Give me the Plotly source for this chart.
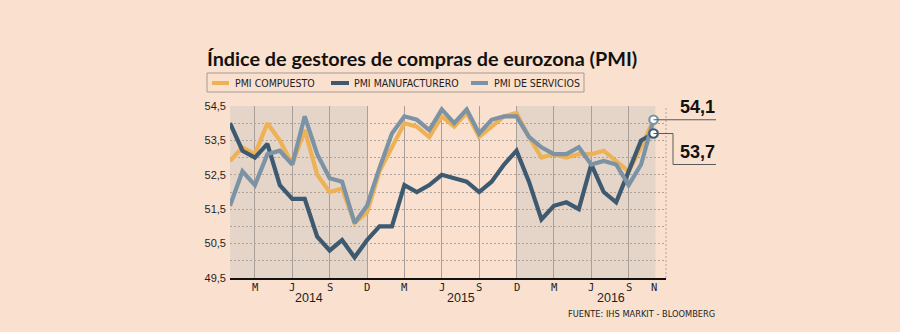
import plotly.graph_objects as go

# ---------------- data ----------------
month_idx = list(range(35))  # Jan 2014 .. Nov 2016
composite = [52.9, 53.3, 53.1, 54.0, 53.5, 52.8, 53.8, 52.5, 52.0, 52.1, 51.1, 51.4,
             52.6, 53.3, 54.0, 53.9, 53.6, 54.2, 53.9, 54.3, 53.6, 53.9, 54.2, 54.3,
             53.6, 53.0, 53.1, 53.0, 53.1, 53.1, 53.2, 52.9, 52.6, 53.3, 54.1]
manufacturing = [54.0, 53.2, 53.0, 53.4, 52.2, 51.8, 51.8, 50.7, 50.3, 50.6, 50.1, 50.6,
                 51.0, 51.0, 52.2, 52.0, 52.2, 52.5, 52.4, 52.3, 52.0, 52.3, 52.8, 53.2,
                 52.3, 51.2, 51.6, 51.7, 51.5, 52.8, 52.0, 51.7, 52.6, 53.5, 53.7]
services = [51.6, 52.6, 52.2, 53.1, 53.2, 52.8, 54.2, 53.1, 52.4, 52.3, 51.1, 51.6,
            52.7, 53.7, 54.2, 54.1, 53.8, 54.4, 54.0, 54.4, 53.7, 54.1, 54.2, 54.2,
            53.6, 53.3, 53.1, 53.1, 53.3, 52.8, 52.9, 52.8, 52.2, 52.8, 54.1]

x_tickvals = [2, 5, 8, 11, 14, 17, 20, 23, 26, 29, 32, 34]
x_ticktext = ["M", "J", "S", "D", "M", "J", "S", "D", "M", "J", "S", "N"]
x_gridvals = [2, 5, 8, 11, 14, 17, 20, 23, 26, 29, 32]
years = ["2014", "2015", "2016"]
year_pos = [6.35, 18.55, 30.6]
y_tickvals = [49.5, 50.5, 51.5, 52.5, 53.5, 54.5]
y_ticktext = ["49,5", "50,5", "51,5", "52,5", "53,5", "54,5"]
shade_ranges = [(0, 11), (23, 34.15)]
series_names = ["PMI COMPUESTO", "PMI MANUFACTURERO", "PMI DE SERVICIOS"]
callout_manuf = "53,7"
callout_top = "54,1"

# ---------------- style ----------------
BG = "#FAE1CF"
SHADE = "#E5D4C8"
C_COMP = "#EDB256"
C_MAN = "#3E5A71"
C_SER = "#7C93A5"
GRID = "#ADA39B"
VGRID = "#A99F98"
TXT = "#1E1E1E"
SANS_N = "DejaVu Sans Condensed, Lato, sans-serif"

W, H = 900, 332
L, R, T, B = 230, 234, 106, 54
XMIN, XMAX = 0, 35
YMIN, YMAX = 49.5, 54.5
PW = W - L - R
PH = H - T - B


def pxx(px):
    return (px - L) / PW


def pxy(py):
    return (H - B - py) / PH


def dy(v):
    return (v - YMIN) / (YMAX - YMIN)


def dx(v):
    return (v - XMIN) / (XMAX - XMIN)


fig = go.Figure()

for vals, col, name in [(composite, C_COMP, series_names[0]),
                        (manufacturing, C_MAN, series_names[1]),
                        (services, C_SER, series_names[2])]:
    fig.add_trace(go.Scatter(x=month_idx, y=vals, mode="lines", name=name,
                             line=dict(color=col, width=4.2),
                             showlegend=False, hoverinfo="skip"))

# end markers
fig.add_trace(go.Scatter(x=[month_idx[-1]], y=[services[-1]], mode="markers",
                         marker=dict(size=8.5, color="white", line=dict(color=C_SER, width=2.2)),
                         showlegend=False, hoverinfo="skip"))
fig.add_trace(go.Scatter(x=[month_idx[-1]], y=[manufacturing[-1]], mode="markers",
                         marker=dict(size=8.5, color="white", line=dict(color=C_MAN, width=2.2)),
                         showlegend=False, hoverinfo="skip"))

shapes = []
for a, b in shade_ranges:
    shapes.append(dict(type="rect", xref="x", yref="y", x0=a, x1=b, y0=YMIN, y1=YMAX,
                       fillcolor=SHADE, line=dict(width=0), layer="below"))
# right dashed border
shapes.append(dict(type="line", xref="paper", yref="paper", x0=1, x1=1, y0=0, y1=1,
                   line=dict(color=GRID, width=1, dash="2px,2px"), layer="below"))

# callout leader lines
xe = dx(month_idx[-1])
shapes.append(dict(type="line", xref="paper", yref="paper", x0=xe, x1=pxx(716),
                   y0=dy(services[-1]), y1=dy(services[-1]),
                   line=dict(color="#5A5A5A", width=1)))
shapes.append(dict(type="path", xref="paper", yref="paper",
                   path=f"M {xe},{dy(manufacturing[-1])} L {pxx(673)},{dy(manufacturing[-1])} "
                        f"L {pxx(673)},{pxy(164.5)} L {pxx(716)},{pxy(164.5)}",
                   line=dict(color="#5A5A5A", width=1)))

# legend box
shapes.append(dict(type="rect", xref="paper", yref="paper", x0=pxx(207), x1=pxx(584),
                   y0=pxy(92), y1=pxy(73), line=dict(color="#A39B95", width=1),
                   fillcolor="rgba(0,0,0,0)"))
leg_sw = [(212, 229, C_COMP, 233), (331, 349, C_MAN, 351.5), (471, 488, C_SER, 492)]
annotations = []
for (s0, s1, col, tx), name in zip(leg_sw, series_names):
    shapes.append(dict(type="line", xref="paper", yref="paper", x0=pxx(s0), x1=pxx(s1),
                       y0=pxy(83), y1=pxy(83), line=dict(color=col, width=4)))
    annotations.append(dict(xref="paper", yref="paper", x=pxx(tx), y=pxy(83.3), text=name,
                            showarrow=False, xanchor="left", yanchor="middle",
                            font=dict(family=SANS_N, size=10.5, color=TXT)))

# title
annotations.append(dict(xref="paper", yref="paper", x=pxx(205), y=pxy(58.5),
                        text="<b>Índice de gestores de compras de eurozona (PMI)</b>",
                        showarrow=False, xanchor="left", yanchor="middle",
                        font=dict(family="Lato", size=19.8, color="#111111")))
# callouts
annotations.append(dict(xref="paper", yref="paper", x=pxx(717), y=dy(services[-1]),
                        text=f"<b>{callout_top}</b>", showarrow=False, xanchor="right",
                        yanchor="bottom", yshift=1,
                        font=dict(family="Liberation Sans", size=18, color="#111111")))
annotations.append(dict(xref="paper", yref="paper", x=pxx(717), y=pxy(164.5),
                        text=f"<b>{callout_manuf}</b>", showarrow=False, xanchor="right",
                        yanchor="bottom", yshift=1,
                        font=dict(family="Liberation Sans", size=18, color="#111111")))
# month labels
for tv, tt in zip(x_tickvals, x_ticktext):
    annotations.append(dict(xref="x", yref="paper", x=tv, y=pxy(286.5), text=tt,
                            showarrow=False, xanchor="center", yanchor="middle",
                            font=dict(family="DejaVu Sans Mono", size=10.5, color=TXT)))
# years
for yv, xp in zip(years, year_pos):
    annotations.append(dict(xref="x", yref="paper", x=xp, y=pxy(298), text=yv,
                            showarrow=False, xanchor="center", yanchor="middle",
                            font=dict(family="Liberation Sans", size=12.5, color=TXT)))
# source
annotations.append(dict(xref="paper", yref="paper", x=pxx(717), y=pxy(313),
                        text="FUENTE: IHS MARKIT - BLOOMBERG", showarrow=False,
                        xanchor="right", yanchor="middle",
                        font=dict(family=SANS_N, size=9.2, color=TXT)))

fig.update_layout(
    width=W, height=H,
    margin=dict(l=L, r=R, t=T, b=B, pad=0),
    paper_bgcolor=BG, plot_bgcolor=BG,
    shapes=shapes, annotations=annotations,
    xaxis=dict(range=[XMIN, XMAX], tickvals=x_tickvals, showticklabels=False,
               showgrid=False, zeroline=False, showline=True, linecolor="#111111",
               linewidth=1.5, ticks="",
               minor=dict(tickvals=x_gridvals, showgrid=True, gridcolor=VGRID,
                          gridwidth=1, ticks="")),
    yaxis=dict(range=[YMIN, YMAX], tickvals=y_tickvals, ticktext=y_ticktext,
               showgrid=True, gridcolor=GRID, gridwidth=1, griddash="2px,2px",
               zeroline=False, showline=False, ticks="", ticklabelstandoff=3,
               tickfont=dict(family="Liberation Sans", size=11, color=TXT),
               minor=dict(dtick=0.5, tick0=49.5, showgrid=True, gridcolor=GRID,
                          gridwidth=1, griddash="2px,2px", ticks="")),
    showlegend=False,
)

fig.write_html("out.html")
